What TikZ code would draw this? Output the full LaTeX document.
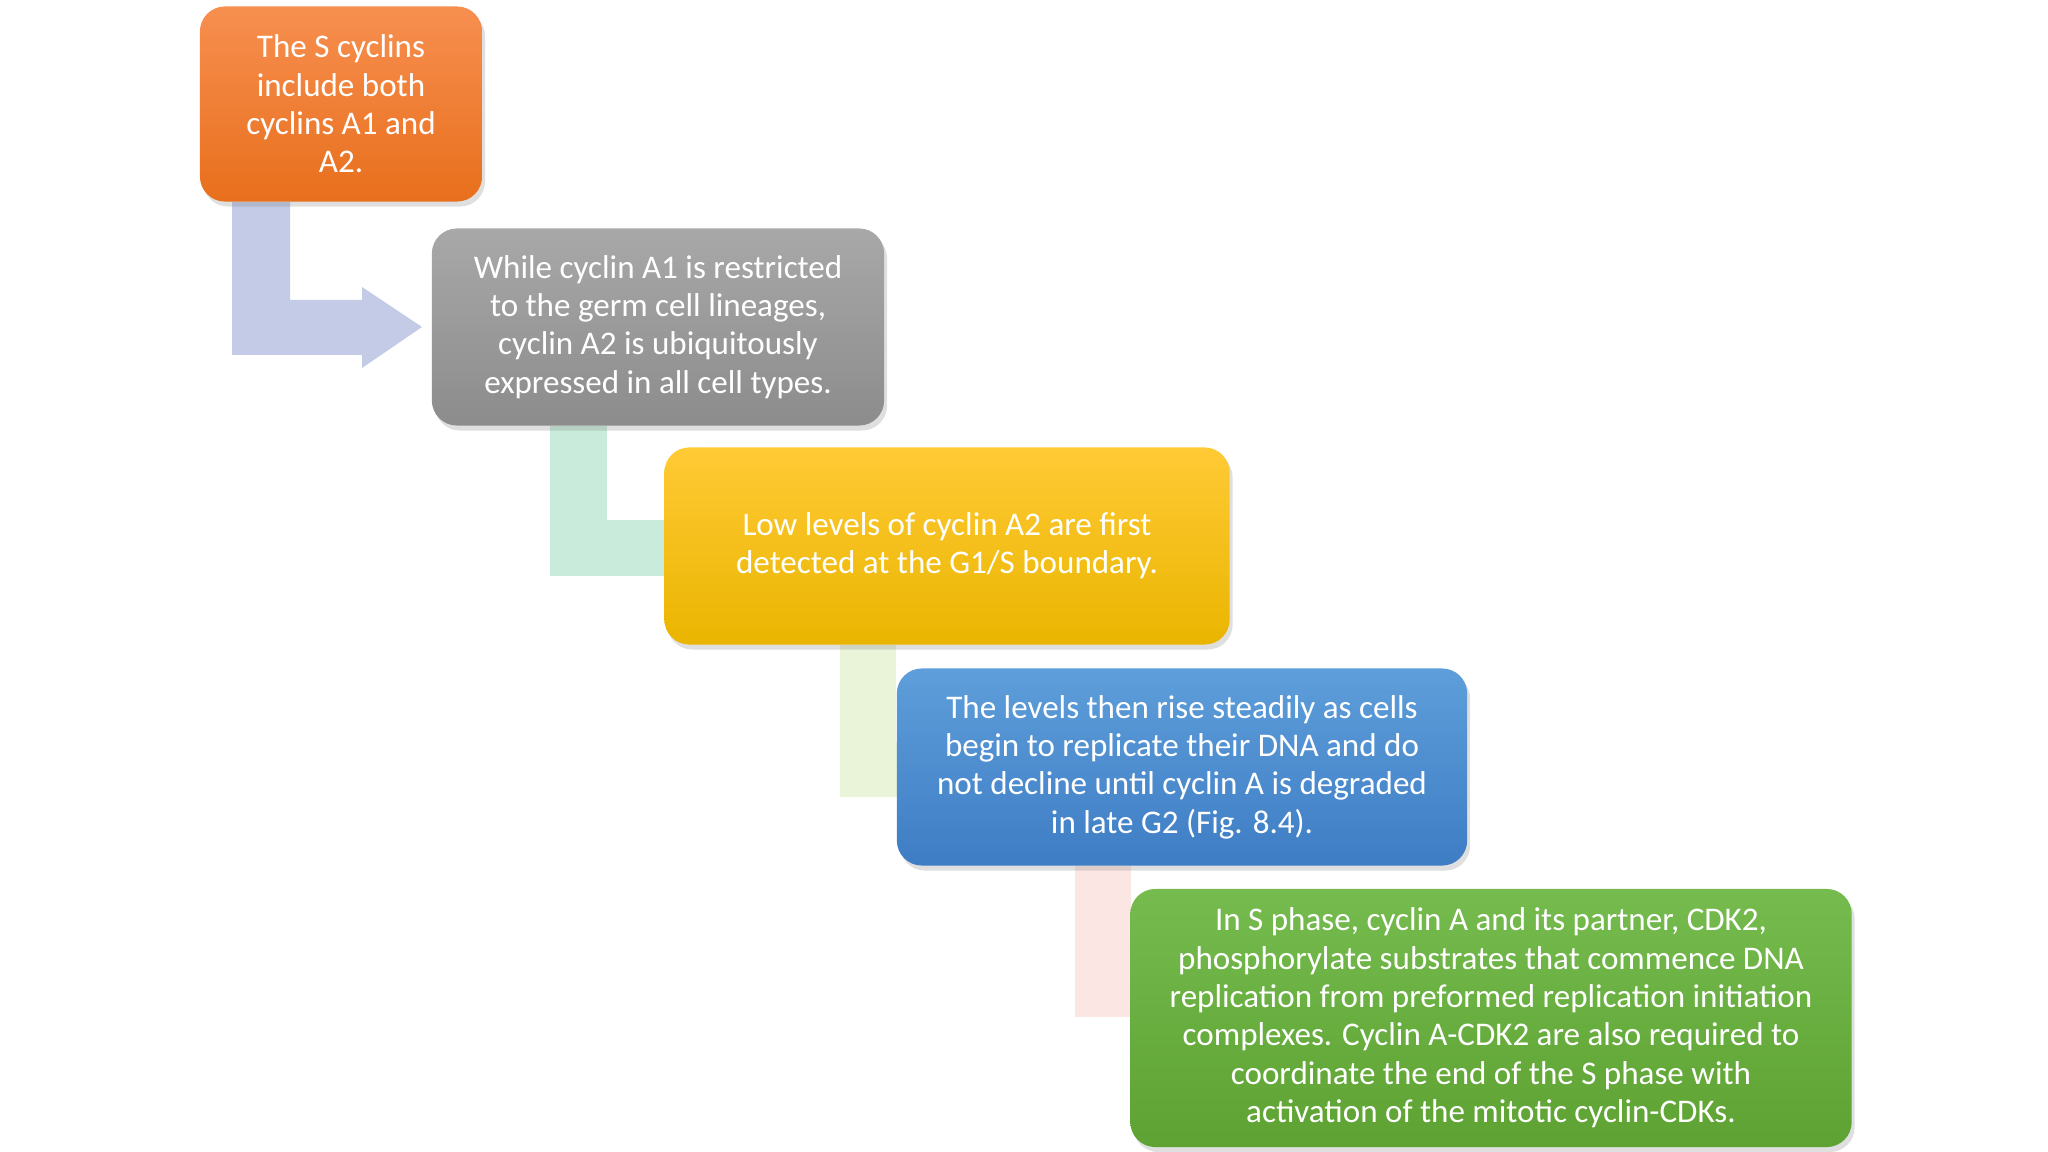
\documentclass[tikz,border=0pt]{standalone}
\usepackage{fontspec}
\setmainfont{Carlito}
\usetikzlibrary{calc,shadows}
\definecolor{orangeT}{HTML}{F78F50}\definecolor{orangeB}{HTML}{E86F1C}
\definecolor{grayT}{HTML}{A8A8A8}\definecolor{grayB}{HTML}{8C8C8C}
\definecolor{yellowT}{HTML}{FFCA35}\definecolor{yellowB}{HTML}{EAB500}
\definecolor{blueT}{HTML}{5E9EDA}\definecolor{blueB}{HTML}{3E7DC4}
\definecolor{greenT}{HTML}{75BB4E}\definecolor{greenB}{HTML}{5DA232}
\definecolor{lavender}{HTML}{C3CBE6}\definecolor{mint}{HTML}{C9EBDC}
\definecolor{palegreen}{HTML}{E9F4D9}\definecolor{palepink}{HTML}{FBE6E3}
\tikzset{
  step/.style 2 args={rectangle, rounded corners=0.25cm, align=center,
    text=white, font=\fontsize{9.4}{10.9}\selectfont, inner sep=0pt,
    top color=#1, bottom color=#2, draw=none,
    drop shadow={opacity=0.25, shadow xshift=0.3mm, shadow yshift=-0.5mm}},
  bend/.style={fill=#1, draw=none}
}
\begin{document}
\begin{tikzpicture}[x=0.01cm,y=-0.01cm]
\useasboundingbox (0,0) rectangle (2048,1152);
% connectors first, boxes on top
\fill[lavender] (232,202) -- (290,202) -- (290,300) -- (362,300) -- (362,287)
  -- (422,327) -- (362,368) -- (362,355) -- (232,355) -- cycle;
\fill[mint] (550,426) rectangle (607,576);
\fill[mint] (550,520) rectangle (670,576);
\fill[palegreen] (840,645) rectangle (896,797);
\fill[palegreen] (840,742) rectangle (900,797);
\fill[palepink] (1075,866) rectangle (1131,1017);
\fill[palepink] (1075,962) rectangle (1135,1017);
% boxes
\node[step={orangeT}{orangeB}, minimum width=2.82cm, minimum height=1.95cm]
  (cyc) at (341,104) {The S cyclins\\include both\\cyclins A1 and\\A2.};
\node[step={grayT}{grayB}, minimum width=4.52cm, minimum height=1.97cm]
  (germ) at (658,327) {While cyclin A1 is restricted\\to the germ cell lineages,\\cyclin A2 is ubiquitously\\expressed in all cell types.};
\node[step={yellowT}{yellowB}, minimum width=5.65cm, minimum height=1.97cm]
  (low) at (947,546) {Low levels of cyclin A2 are first\\detected at the G1/S boundary.};
\node[step={blueT}{blueB}, minimum width=5.70cm, minimum height=1.97cm]
  (rise) at (1182,767) {The levels then rise steadily as cells\\begin to replicate their DNA and do\\not decline until cyclin A is degraded\\in late G2 (Fig. 8.4).};
\node[step={greenT}{greenB}, minimum width=7.21cm, minimum height=2.58cm]
  (sph) at (1491,1018) {In S phase, cyclin A and its partner, CDK2,\\phosphorylate substrates that commence DNA\\replication from preformed replication initiation\\complexes. Cyclin A-CDK2 are also required to\\coordinate the end of the S phase with\\activation of the mitotic cyclin-CDKs.};
\end{tikzpicture}
\end{document}
